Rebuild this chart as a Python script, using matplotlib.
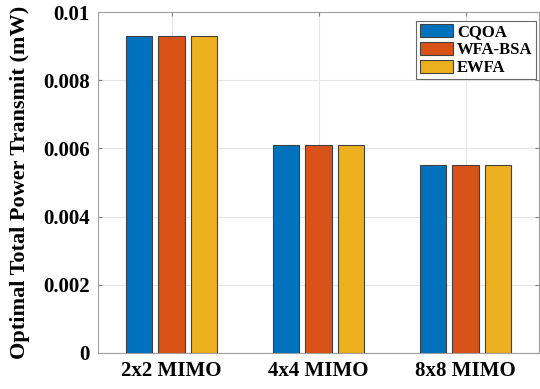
import matplotlib
matplotlib.use("Agg")
import matplotlib.pyplot as plt
import numpy as np

categories = ["2x2 MIMO", "4x4 MIMO", "8x8 MIMO"]
series_names = ["CQOA", "WFA-BSA", "EWFA"]
cqoa = [0.0093, 0.0061, 0.0055]
wfa_bsa = [0.0093, 0.0061, 0.0055]
ewfa = [0.0093, 0.0061, 0.0055]
yticks = [0, 0.002, 0.004, 0.006, 0.008, 0.01]
ytick_labels = ["0", "0.002", "0.004", "0.006", "0.008", "0.01"]
colors = ["#0072BD", "#D95319", "#EDB120"]

plt.rcParams['font.family'] = ['Liberation Serif', 'DejaVu Serif']
plt.rcParams['font.weight'] = 'bold'

fig = plt.figure(figsize=(5.4, 3.89), dpi=100)
ax = fig.add_axes([98/540, 1 - 353/389, (539-98)/540, (353-12)/389])

x = np.arange(1, len(categories) + 1)
offset = 0.224
width = 0.177
for i, (vals, name) in enumerate(zip([cqoa, wfa_bsa, ewfa], series_names)):
    ax.bar(x + (i - 1) * offset, vals, width, color=colors[i], edgecolor="#404040",
           linewidth=0.8, label=name, zorder=3)

ax.set_xlim(0.5, 3.5)
ax.set_ylim(0, 0.01)
ax.set_xticks(x)
ax.set_xticklabels(categories, fontsize=15, fontweight='bold')
ax.set_yticks(yticks)
ax.set_yticklabels(ytick_labels, fontsize=15, fontweight='bold')
ax.grid(True, color="#e6e6e6", linewidth=0.8, zorder=0)
ax.tick_params(direction='in', length=3, color="#808080", top=True, right=True, pad=6)
for s in ax.spines.values():
    s.set_color("#a0a0a0")
    s.set_linewidth(0.8)
ax.set_ylabel("Optimal Total Power Transmit (mW)", fontsize=16, fontweight='bold', labelpad=9)

leg = ax.legend(loc='upper right', bbox_to_anchor=(0.993, 0.974), fontsize=12,
                frameon=True, fancybox=False, edgecolor="#404040",
                handlelength=2.0, handleheight=0.8, borderpad=0.2,
                labelspacing=0.1, handletextpad=0.25, borderaxespad=0)
leg.get_frame().set_linewidth(0.8)
for t in leg.get_texts():
    t.set_fontweight('bold')

fig.savefig("out.png", dpi=100)
